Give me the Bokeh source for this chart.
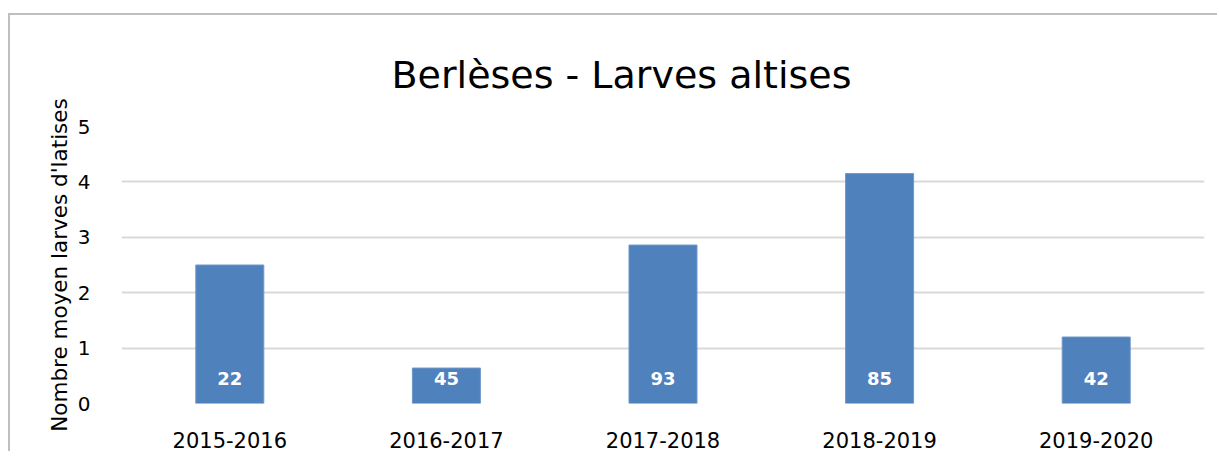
from bokeh.plotting import figure
from bokeh.models import FixedTicker
from bokeh.core.properties import value
from bokeh.embed import file_html
from bokeh.resources import INLINE

# ---- data ----
seasons = ["2015-2016", "2016-2017", "2017-2018", "2018-2019", "2019-2020"]
mean_larvae = [2.50, 0.64, 2.86, 4.15, 1.20]
sample_counts = ["22", "45", "93", "85", "42"]
y_ticks = [0, 1, 2, 3, 4, 5]
title_text = "Berlèses - Larves altises"
y_label = "Nombre moyen larves d'latises"

FONT = "DejaVu Sans"

p = figure(x_range=seasons, y_range=(0, 5), width=1209, height=438,
           output_backend="svg", toolbar_location=None,
           min_border_left=111, min_border_right=15,
           min_border_top=111, min_border_bottom=50)
p.styles = {"border-top": "2px solid #bfbfbf", "border-left": "2px solid #bfbfbf",
            "margin-top": "13px", "margin-left": "8px"}
p.outline_line_color = None
p.background_fill_color = "white"
p.border_fill_color = "white"

p.title.text = title_text
p.title.align = "left"
p.title.offset = 270
p.title.standoff = 59
p.title.text_font = FONT
p.title.text_font_size = "38px"
p.title.text_font_style = "normal"
p.title.text_color = "black"

p.vbar(x=seasons, top=mean_larvae, width=0.314, fill_color="#4F81BD",
       line_color="#6f97c8", line_width=1)

p.text(x=seasons, y=[0] * len(seasons), text=sample_counts,
       y_offset=-25, text_align="center", text_baseline="middle",
       text_color="white", text_font=value(FONT), text_font_style="bold",
       text_font_size="18px")

# axes
p.xgrid.grid_line_color = None
p.ygrid.grid_line_color = "#d9d9d9"
p.ygrid.grid_line_width = 2
p.yaxis.ticker = FixedTicker(ticks=y_ticks)
for ax in (p.xaxis[0], p.yaxis[0]):
    ax.axis_line_color = None
    ax.major_tick_line_color = None
    ax.minor_tick_line_color = None
    ax.major_label_text_font = FONT
    ax.major_label_text_font_size = "20px"
    ax.major_label_text_color = "black"
p.xaxis.major_label_text_font_size = "21px"
p.xaxis.major_label_standoff = 22
p.yaxis.major_label_standoff = 25
p.yaxis.axis_label = y_label
p.yaxis.axis_label_text_font = FONT
p.yaxis.axis_label_text_font_size = "21.5px"
p.yaxis.axis_label_text_font_style = "normal"
p.yaxis.axis_label_text_color = "black"
p.yaxis.axis_label_standoff = 3

open("out.html", "w").write(file_html(p, INLINE))
